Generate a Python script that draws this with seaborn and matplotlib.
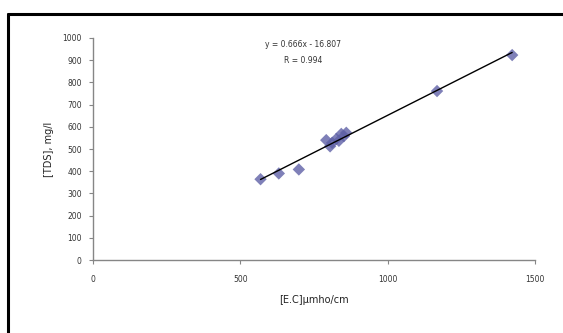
import numpy as np
import pandas as pd
import matplotlib.pyplot as plt
import seaborn as sns
from matplotlib.lines import Line2D

# values
ec = [569, 631, 699, 792, 805, 812, 826, 835, 843, 852, 860, 1168, 1423]
tds = [364, 390, 408, 540, 512, 528, 545, 537, 568, 558, 573, 761, 923]
x_ticks = [0, 500, 1000, 1500]
y_ticks = list(range(0, 1001, 100))
eq_text = "y = 0.666x - 16.807"
r_text = "R = 0.994"

df = pd.DataFrame({"ec": ec, "tds": tds})

sns.set_style("white")
plt.rcParams['font.family'] = ['DejaVu Sans']

fig = plt.figure(figsize=(5.63, 3.33), dpi=100)
ax = fig.add_axes([0.165, 0.219, 0.785, 0.667])

sns.regplot(data=df, x="ec", y="tds", ax=ax, ci=None, truncate=True,
            marker="D",
            scatter_kws=dict(s=40, color="#5f61a6", edgecolor="none", zorder=3),
            line_kws=dict(color="black", lw=1.0, zorder=4))

ax.set_xlim(0, 1500)
ax.set_ylim(0, 1000)
ax.set_xticks(x_ticks)
ax.set_yticks(y_ticks)
ax.tick_params(axis="both", labelsize=5.5, length=3, width=0.8, color="#868686",
               direction="out", labelcolor="#333333", pad=5,
               bottom=True, left=True)
ax.tick_params(axis="x", pad=8)
for side in ["top", "right"]:
    ax.spines[side].set_visible(False)
for side in ["left", "bottom"]:
    ax.spines[side].set_color("#868686")
    ax.spines[side].set_linewidth(1.0)

ax.set_xlabel("[E.C]µmho/cm", fontsize=7, color="#222222", labelpad=8)
ax.set_ylabel("[TDS], mg/l", fontsize=7, color="#222222", labelpad=6)

ax.text(0.475, 0.97, eq_text, transform=ax.transAxes, ha="center", va="center",
        fontsize=5.5, color="#333333")
ax.text(0.475, 0.90, r_text, transform=ax.transAxes, ha="center", va="center",
        fontsize=5.5, color="#333333")

# outer chart border (only left and top visible in the crop)
fig.add_artist(Line2D([0.0142, 0.0142], [0.0, 0.958], transform=fig.transFigure,
                      color="black", lw=2.2))
fig.add_artist(Line2D([0.0142, 1.0], [0.958, 0.958], transform=fig.transFigure,
                      color="black", lw=2.2))

fig.savefig("out.png", dpi=100)
